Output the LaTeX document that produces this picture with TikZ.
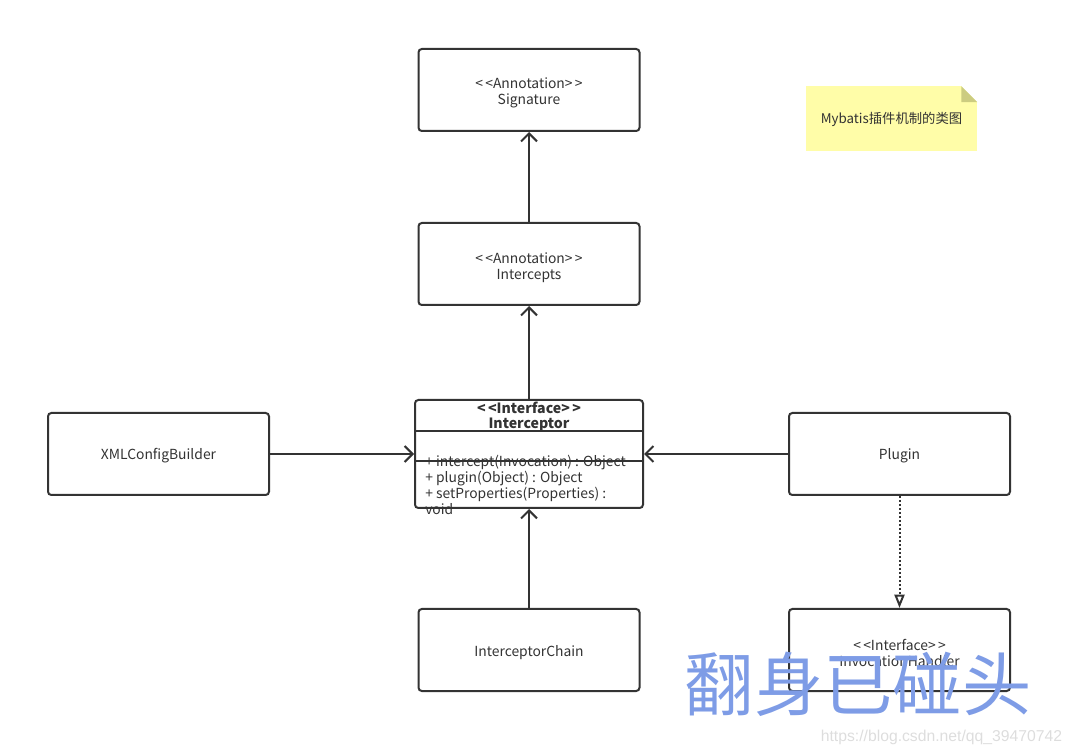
\documentclass[tikz,border=0pt]{standalone}
\usepackage{fontspec}
\setmainfont{Noto Sans CJK SC}
\newfontfamily\urlfont{Liberation Sans}
\usetikzlibrary{calc,arrows.meta,positioning}
\definecolor{linec}{HTML}{333333}
\definecolor{notec}{HTML}{FFFDA8}
\definecolor{foldc}{HTML}{CCCC80}
\definecolor{markc}{HTML}{7E9CE6}
\definecolor{urlc}{HTML}{DDDDDD}
\newcommand{\stereo}[1]{\textless\,\textless #1\textgreater\,\textgreater}

\begin{document}
\begin{tikzpicture}[x=0.75pt,y=-0.75pt,node distance=67.5pt and 108pt]

\tikzset{classbox/.style={draw=linec,line width=1.5pt,rounded corners=2.5pt,fill=white,text=linec,
  font=\fontsize{10.4}{12}\selectfont,align=center,minimum width=165.75pt,minimum height=61.5pt,inner sep=2pt,text height=11.5pt},
stereobox/.style={classbox,text height=25pt},
bigbox/.style={classbox,minimum width=171pt,minimum height=81pt},
uses/.style={draw=linec,line width=1.5pt,-{Straight Barb[length=6pt,width=12pt]}},
realizes/.style={draw=linec,line width=1.5pt,dash pattern=on 1.5pt off 1.5pt,-{Triangle[open,length=10pt,width=7.5pt]}}}

\useasboundingbox (0,0) rectangle (1072,755);

% annotation column
\node (sig) [stereobox] at (529,90) {\stereo{Annotation}\\Signature};
\node (intcp) [stereobox,below=of sig] {\stereo{Annotation}\\Intercepts};

% interceptor class
\node (intc) [bigbox] at (529,454) {};
\node (ttl) [text=linec,font=\fontsize{10.6}{11.25}\selectfont\bfseries,align=center,inner sep=0pt] at ($(intc.north)+(0,18)$) {\stereo{Interface}\\Interceptor};
\draw[linec,line width=1.5pt] ($(intc.north west)+(0,32)$) -- ($(intc.north east)+(0,32)$);
\draw[linec,line width=1.5pt] ($(intc.north west)+(0,62)$) -- ($(intc.north east)+(0,62)$);
\node (meth) [anchor=north west,text=linec,font=\fontsize{10.4}{12}\selectfont,align=left,inner sep=0pt] at ($(intc.north west)+(11,56)$)
  {+ intercept(Invocation) : Object\\+ plugin(Object) : Object\\+ setProperties(Properties) :\\void};

% the others
\node (chain) [classbox,below=74.25pt of intc] {InterceptorChain};
\node (xml) [classbox,left=of intc] {XMLConfigBuilder};
\node (plug) [classbox,right=of intc] {Plugin};
\node (hdl) [stereobox,below=84pt of plug] {\stereo{Interface}\\InvocationHandler};

% note
\node (note) [fill=notec,minimum width=128.25pt,minimum height=48.75pt,text=linec,font=\fontsize{10}{12}\selectfont] at (891.5,119) {\raisebox{-1.5pt}{Mybatis插件机制的类图}};
\fill[white] ($(note.north east)+(-16,0)$) -- (note.north east) -- ($(note.north east)+(0,16)$) -- cycle;
\fill[foldc] ($(note.north east)+(-16,0)$) -- ($(note.north east)+(-16,16)$) -- ($(note.north east)+(0,16)$) -- cycle;

% Edges
\draw[uses] (intcp) -- (sig);
\draw[uses] (intc) -- (intcp);
\draw[uses] (chain) -- (intc);
\draw[uses] (xml) -- (intc);
\draw[uses] (plug) -- (intc);
\draw[realizes] (plug) -- (hdl);

% watermark
\node (mark) [text=markc,font=\fontsize{52}{52}\selectfont,inner sep=0pt] at (858,684) {翻身已碰头};
\node (url) [text=urlc,font=\urlfont\fontsize{11.8}{12}\selectfont,inner sep=0pt] at (941.5,737) {https://blog.csdn.net/qq\_39470742};

\end{tikzpicture}
\end{document}
